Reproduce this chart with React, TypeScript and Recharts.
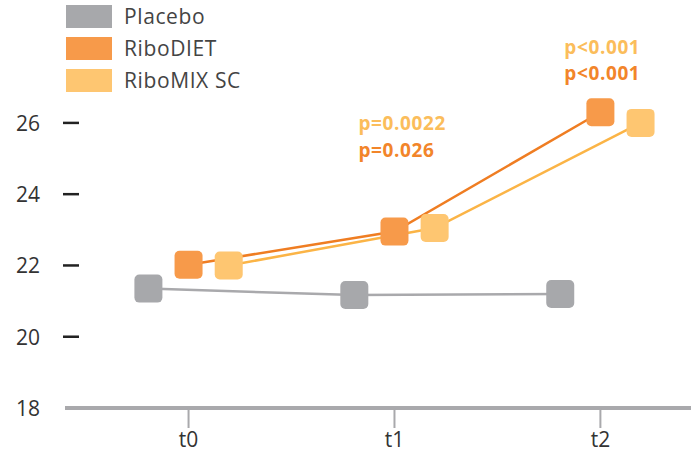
import React from 'react';
import {
  ComposedChart, Line, Scatter, XAxis, YAxis, Legend,
} from 'recharts';

const categories = ['t0', 't1', 't2'];
const placeboValues = [21.35, 21.17, 21.2];
const riboDietValues = [22.02, 22.95, 26.3];
const riboMixValues = [22.0, 23.05, 26.0];
const yTicks = [18, 20, 22, 24, 26];

// p-value annotations (category index, y value in axis units, text)
const mixPValues = [
  { cat: 1, y: 26.0, text: 'p=0.0022' },
  { cat: 2, y: 28.14, text: 'p<0.001' },
];
const dietPValues = [
  { cat: 1, y: 25.25, text: 'p=0.026' },
  { cat: 2, y: 27.41, text: 'p<0.001' },
];

const DODGE = 0.195;
const LABEL_SHIFT = -0.175;
const FONT = '"Open Sans", "DejaVu Sans", sans-serif';

const series = [
  { key: 'placebo', name: 'Placebo', values: placeboValues, offset: -DODGE, line: '#a9a9ac', fill: '#a7a8ab' },
  { key: 'riboDiet', name: 'RiboDIET', values: riboDietValues, offset: 0, line: '#ef7d22', fill: '#f79a4a' },
  { key: 'riboMix', name: 'RiboMIX SC', values: riboMixValues, offset: DODGE, line: '#fbb446', fill: '#fec671' },
];

const toPoints = (values: number[], offset: number) =>
  values.map((v, i) => ({ x: i + offset, y: v }));

const toLabels = (items: { cat: number; y: number; text: string }[]) =>
  items.map((d) => ({ x: d.cat + LABEL_SHIFT, y: d.y, text: d.text }));

const squareDot = (fill: string) => (props: any) => {
  const { cx, cy, index } = props;
  if (cx == null || cy == null) return <g key={index} />;
  return <rect key={index} x={cx - 14} y={cy - 14} width={28} height={28} rx={5} fill={fill} />;
};

const textShape = (color: string) => (props: any) => (
  <text
    x={props.cx}
    y={props.cy}
    fill={color}
    fontSize={19}
    fontWeight={700}
    dominantBaseline="central"
    style={{ fontFamily: FONT, letterSpacing: 0.6 }}
  >
    {props.payload.text}
  </text>
);

const YTick = (props: any) => {
  const { x, y, payload } = props;
  return (
    <g>
      <text x={x} y={y} textAnchor="end" dominantBaseline="central" fill="#333" fontSize={21}>
        {payload.value}
      </text>
      {payload.value !== 18 && (
        <line x1={x + 23} x2={x + 39} y1={y} y2={y} stroke="#222" strokeWidth={2.5} />
      )}
    </g>
  );
};

const LegendBox = () => (
  <div style={{ fontFamily: FONT }}>
    {series.map((s) => (
      <div key={s.key} style={{ display: 'flex', alignItems: 'center', height: 32 }}>
        <div style={{ width: 46, height: 23, background: s.fill }} />
        <span style={{ marginLeft: 12, fontSize: 21, letterSpacing: 0.6, color: '#444' }}>{s.name}</span>
      </div>
    ))}
  </div>
);

const App: React.FC = () => (
  <div style={{ position: 'absolute', left: 0, top: 0, width: 693, height: 456, background: '#fff' }}>
    <ComposedChart
      width={693}
      height={456}
      margin={{ top: 16, right: 2, bottom: 0, left: 0 }}
      style={{ fontFamily: FONT }}
    >
      <XAxis
        type="number"
        dataKey="x"
        domain={[-0.6, 2.44]}
        ticks={[0, 1, 2]}
        tickFormatter={(v: number) => categories[v]}
        allowDataOverflow
        axisLine={{ stroke: '#a9a9ac', strokeWidth: 4 }}
        tickLine={{ stroke: '#a9a9ac', strokeWidth: 2 }}
        tickSize={20}
        tickMargin={4}
        height={48}
        tick={{ fill: '#333', fontSize: 21 }}
      />
      <YAxis
        type="number"
        dataKey="y"
        domain={[18, 29]}
        ticks={yTicks}
        axisLine={false}
        tickLine={false}
        tickSize={0}
        tickMargin={25}
        width={65}
        tick={<YTick />}
      />
      <Legend
        layout="vertical"
        align="center"
        verticalAlign="middle"
        wrapperStyle={{ left: 66, top: 0 }}
        content={<LegendBox />}
      />
      {series.map((s) => (
        <Line
          key={s.key}
          name={s.name}
          data={toPoints(s.values, s.offset)}
          dataKey="y"
          stroke={s.line}
          strokeWidth={2.5}
          dot={squareDot(s.fill)}
          activeDot={false}
          isAnimationActive={false}
        />
      ))}
      <Scatter
        name="mixP"
        data={toLabels(mixPValues)}
        dataKey="y"
        shape={textShape('#fbbd5b')}
        isAnimationActive={false}
      />
      <Scatter
        name="dietP"
        data={toLabels(dietPValues)}
        dataKey="y"
        shape={textShape('#f2852a')}
        isAnimationActive={false}
      />
    </ComposedChart>
  </div>
);

export default App;
